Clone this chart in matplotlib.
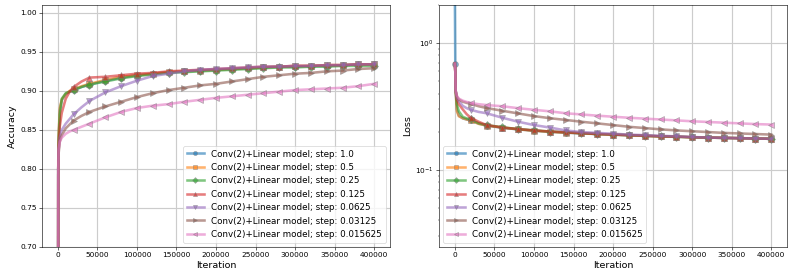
import numpy as np
from matplotlib import pyplot as plt

iters = [0, 500, 1000, 2500, 5000, 10000, 15000, 20000, 30000, 40000,
         60000, 80000, 100000, 120000, 140000, 160000, 180000, 200000,
         220000, 240000, 260000, 280000, 300000, 320000, 340000, 360000,
         380000, 400000]

steps = ['1.0', '0.5', '0.25', '0.125', '0.0625', '0.03125', '0.015625']
markers = ['o', 's', 'D', '^', 'v', '>', '<']

acc_1 = [0.10, 0.80, 0.84, 0.875, 0.888, 0.896, 0.899, 0.901, 0.905, 0.908, 0.913, 0.917, 0.920, 0.922,
         0.924, 0.925, 0.926, 0.927, 0.928, 0.929, 0.930, 0.931, 0.931, 0.932, 0.932, 0.933, 0.934, 0.934]
acc_05 = [0.10, 0.81, 0.845, 0.878, 0.889, 0.896, 0.900, 0.902, 0.906, 0.909, 0.914, 0.918, 0.920, 0.922,
          0.924, 0.925, 0.926, 0.927, 0.928, 0.929, 0.930, 0.931, 0.932, 0.932, 0.933, 0.933, 0.934, 0.934]
acc_025 = [0.10, 0.80, 0.835, 0.870, 0.890, 0.897, 0.899, 0.901, 0.905, 0.908, 0.912, 0.916, 0.919, 0.921,
           0.923, 0.924, 0.925, 0.926, 0.927, 0.928, 0.929, 0.930, 0.930, 0.931, 0.931, 0.932, 0.932, 0.932]
acc_0125 = [0.10, 0.79, 0.83, 0.855, 0.872, 0.890, 0.899, 0.905, 0.912, 0.917, 0.918, 0.920, 0.922, 0.923,
            0.925, 0.926, 0.927, 0.928, 0.929, 0.930, 0.931, 0.931, 0.932, 0.932, 0.933, 0.933, 0.934, 0.934]
acc_00625 = [0.10, 0.80, 0.825, 0.840, 0.850, 0.858, 0.864, 0.870, 0.879, 0.887, 0.898, 0.906, 0.913, 0.919,
             0.922, 0.925, 0.927, 0.928, 0.929, 0.930, 0.931, 0.931, 0.932, 0.932, 0.933, 0.933, 0.934, 0.934]
acc_003125 = [0.10, 0.80, 0.82, 0.835, 0.843, 0.852, 0.857, 0.862, 0.868, 0.873, 0.880, 0.886, 0.892, 0.897,
              0.901, 0.904, 0.907, 0.909, 0.912, 0.915, 0.918, 0.920, 0.922, 0.923, 0.925, 0.926, 0.928, 0.929]
acc_0015625 = [0.10, 0.80, 0.825, 0.835, 0.840, 0.845, 0.848, 0.850, 0.854, 0.858, 0.866, 0.873, 0.878, 0.881,
               0.883, 0.886, 0.8885, 0.891, 0.893, 0.895, 0.897, 0.899, 0.901, 0.902, 0.903, 0.904, 0.906, 0.909]

loss_1 = [2.30, 0.69, 0.42, 0.30, 0.268, 0.255, 0.250, 0.247, 0.232, 0.224, 0.215, 0.209, 0.204, 0.200,
          0.197, 0.194, 0.192, 0.190, 0.188, 0.186, 0.184, 0.183, 0.181, 0.180, 0.179, 0.178, 0.177, 0.176]
loss_05 = [0.69, 0.60, 0.42, 0.29, 0.265, 0.256, 0.250, 0.246, 0.231, 0.224, 0.216, 0.209, 0.204, 0.200,
           0.197, 0.195, 0.192, 0.190, 0.188, 0.186, 0.184, 0.183, 0.181, 0.180, 0.179, 0.178, 0.177, 0.176]
loss_025 = [0.69, 0.60, 0.42, 0.33, 0.29, 0.262, 0.255, 0.250, 0.234, 0.226, 0.217, 0.210, 0.205, 0.201,
            0.198, 0.195, 0.192, 0.190, 0.188, 0.186, 0.184, 0.183, 0.181, 0.180, 0.179, 0.178, 0.177, 0.176]
loss_0125 = [0.69, 0.60, 0.42, 0.36, 0.33, 0.30, 0.275, 0.258, 0.240, 0.226, 0.216, 0.210, 0.205, 0.201,
             0.198, 0.195, 0.192, 0.190, 0.188, 0.186, 0.184, 0.183, 0.181, 0.180, 0.179, 0.178, 0.177, 0.176]
loss_00625 = [0.69, 0.60, 0.42, 0.37, 0.35, 0.32, 0.307, 0.298, 0.287, 0.280, 0.258, 0.240, 0.226, 0.216,
              0.205, 0.199, 0.196, 0.193, 0.190, 0.188, 0.186, 0.184, 0.182, 0.180, 0.179, 0.178, 0.177, 0.176]
loss_003125 = [0.69, 0.60, 0.42, 0.38, 0.36, 0.345, 0.338, 0.332, 0.318, 0.308, 0.293, 0.279, 0.266, 0.256,
               0.248, 0.240, 0.233, 0.226, 0.219, 0.214, 0.209, 0.205, 0.202, 0.199, 0.196, 0.194, 0.192, 0.190]
loss_0015625 = [0.69, 0.60, 0.42, 0.385, 0.365, 0.352, 0.344, 0.338, 0.330, 0.325, 0.318, 0.307, 0.298, 0.290,
                0.280, 0.274, 0.268, 0.263, 0.258, 0.254, 0.250, 0.246, 0.242, 0.239, 0.236, 0.233, 0.230, 0.228]

accs = [acc_1, acc_05, acc_025, acc_0125, acc_00625, acc_003125, acc_0015625]
losses = [loss_1, loss_05, loss_025, loss_0125, loss_00625, loss_003125, loss_0015625]

DPI = 52.87
fig, axs = plt.subplots(1, 2, figsize=(793 / DPI, 279 / DPI), dpi=DPI)
fig.subplots_adjust(left=0.053, right=0.9925, top=0.982, bottom=0.115, wspace=0.141)

# markers every 20000 iterations
mk = [i for i, it in enumerate(iters) if it > 0 and it % 20000 == 0]

for k in range(len(steps)):
    lab = f'Conv(2)+Linear model; step: {steps[k]}'
    axs[0].plot(iters, accs[k], marker=markers[k], markevery=mk, lw=3.5, ms=8,
                alpha=0.6, mec='gray', label=lab)
    mk_loss = [1] + mk if k == 0 else mk
    axs[1].plot(iters, losses[k], marker=markers[k], markevery=mk_loss, lw=3.5, ms=8,
                alpha=0.6, mec='gray', label=lab)

axs[0].set_ylim(0.70, 1.01)
axs[0].set_ylabel('Accuracy', fontsize=13)
axs[0].legend(loc='lower right', fontsize=12, markerscale=0.7)

axs[1].set_yscale('log')
axs[1].set_ylim(0.0247, 2.0)
axs[1].set_ylabel('Loss', fontsize=13)
axs[1].legend(loc='lower left', fontsize=12, markerscale=0.7)

for ax in axs:
    ax.set_xlabel('Iteration', fontsize=13)
    ax.grid(True, lw=1.6, color='#cccccc')
    ax.tick_params(labelsize=10)

fig.savefig('out.png', dpi=DPI)
